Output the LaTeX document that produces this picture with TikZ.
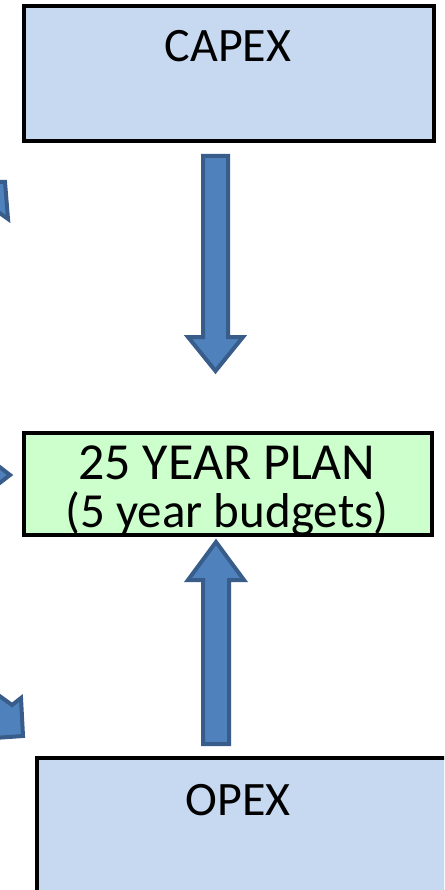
\documentclass[tikz,border=0pt]{standalone}
\usepackage{fontspec}
\setmainfont{Carlito}
\definecolor{boxblue}{HTML}{C6D9F1}
\definecolor{boxgreen}{HTML}{CCFFCC}
\definecolor{arrfill}{HTML}{4F81BD}
\definecolor{arrline}{HTML}{385D8A}
\tikzset{
  boxstyle/.style={draw=black, line width=4pt, inner sep=0pt},
  bluebox/.style={boxstyle, fill=boxblue},
  greenbox/.style={boxstyle, fill=boxgreen},
  blockarrow/.style={draw=arrline, fill=arrfill, line width=4pt, line join=miter, miter limit=10},
  labeltext/.style={font=\fontsize{48}{50}\selectfont, inner sep=0pt, anchor=base},
}
\begin{document}
\begin{tikzpicture}[x=1pt,y=-1pt]
\useasboundingbox (0,0) rectangle (444,890);
\clip (0,0) rectangle (444,890);
\fill[white] (0,0) rectangle (444,890);
% boxes
\node[bluebox, minimum width=410pt, minimum height=135pt] (capex) at (229,73.5) {};
\node[labeltext] (capextext) at (228,62) {CAPEX};
\node[greenbox, minimum width=408pt, minimum height=102pt] (plan) at (228,484) {};
\node[inner sep=0pt, align=center, anchor=center, font=\fontsize{50}{48}\selectfont] (plantext) at (227,491)
  {{\fontsize{52}{48}\selectfont 25 YEAR PLAN}\\{\fontsize{49}{48}\selectfont (5 year budgets)}};
\node[bluebox, minimum width=420pt, minimum height=150pt] (opex) at (247,833) {};
\node[labeltext] (opextext) at (238,815) {OPEX};
% vertical block arrows
\draw[blockarrow] (203,156) -- (228,156) -- (228,337) -- (243,337) -- (215.5,371) -- (188,337) -- (203,337) -- cycle;
\draw[blockarrow] (203,744) -- (229,744) -- (229,580) -- (244,580) -- (216,542) -- (188,580) -- (203,580) -- cycle;
% partial arrows at the left edge
\draw[blockarrow] (-6,182) -- (5,182) -- (8,219) -- (-6,209) -- cycle;
\draw[blockarrow] (-12,458) -- (10,475) -- (-12,492) -- cycle;
\draw[blockarrow] (-6,692) -- (12,705) -- (21,698) -- (23,736) -- (-6,738) -- cycle;
\end{tikzpicture}
\end{document}
